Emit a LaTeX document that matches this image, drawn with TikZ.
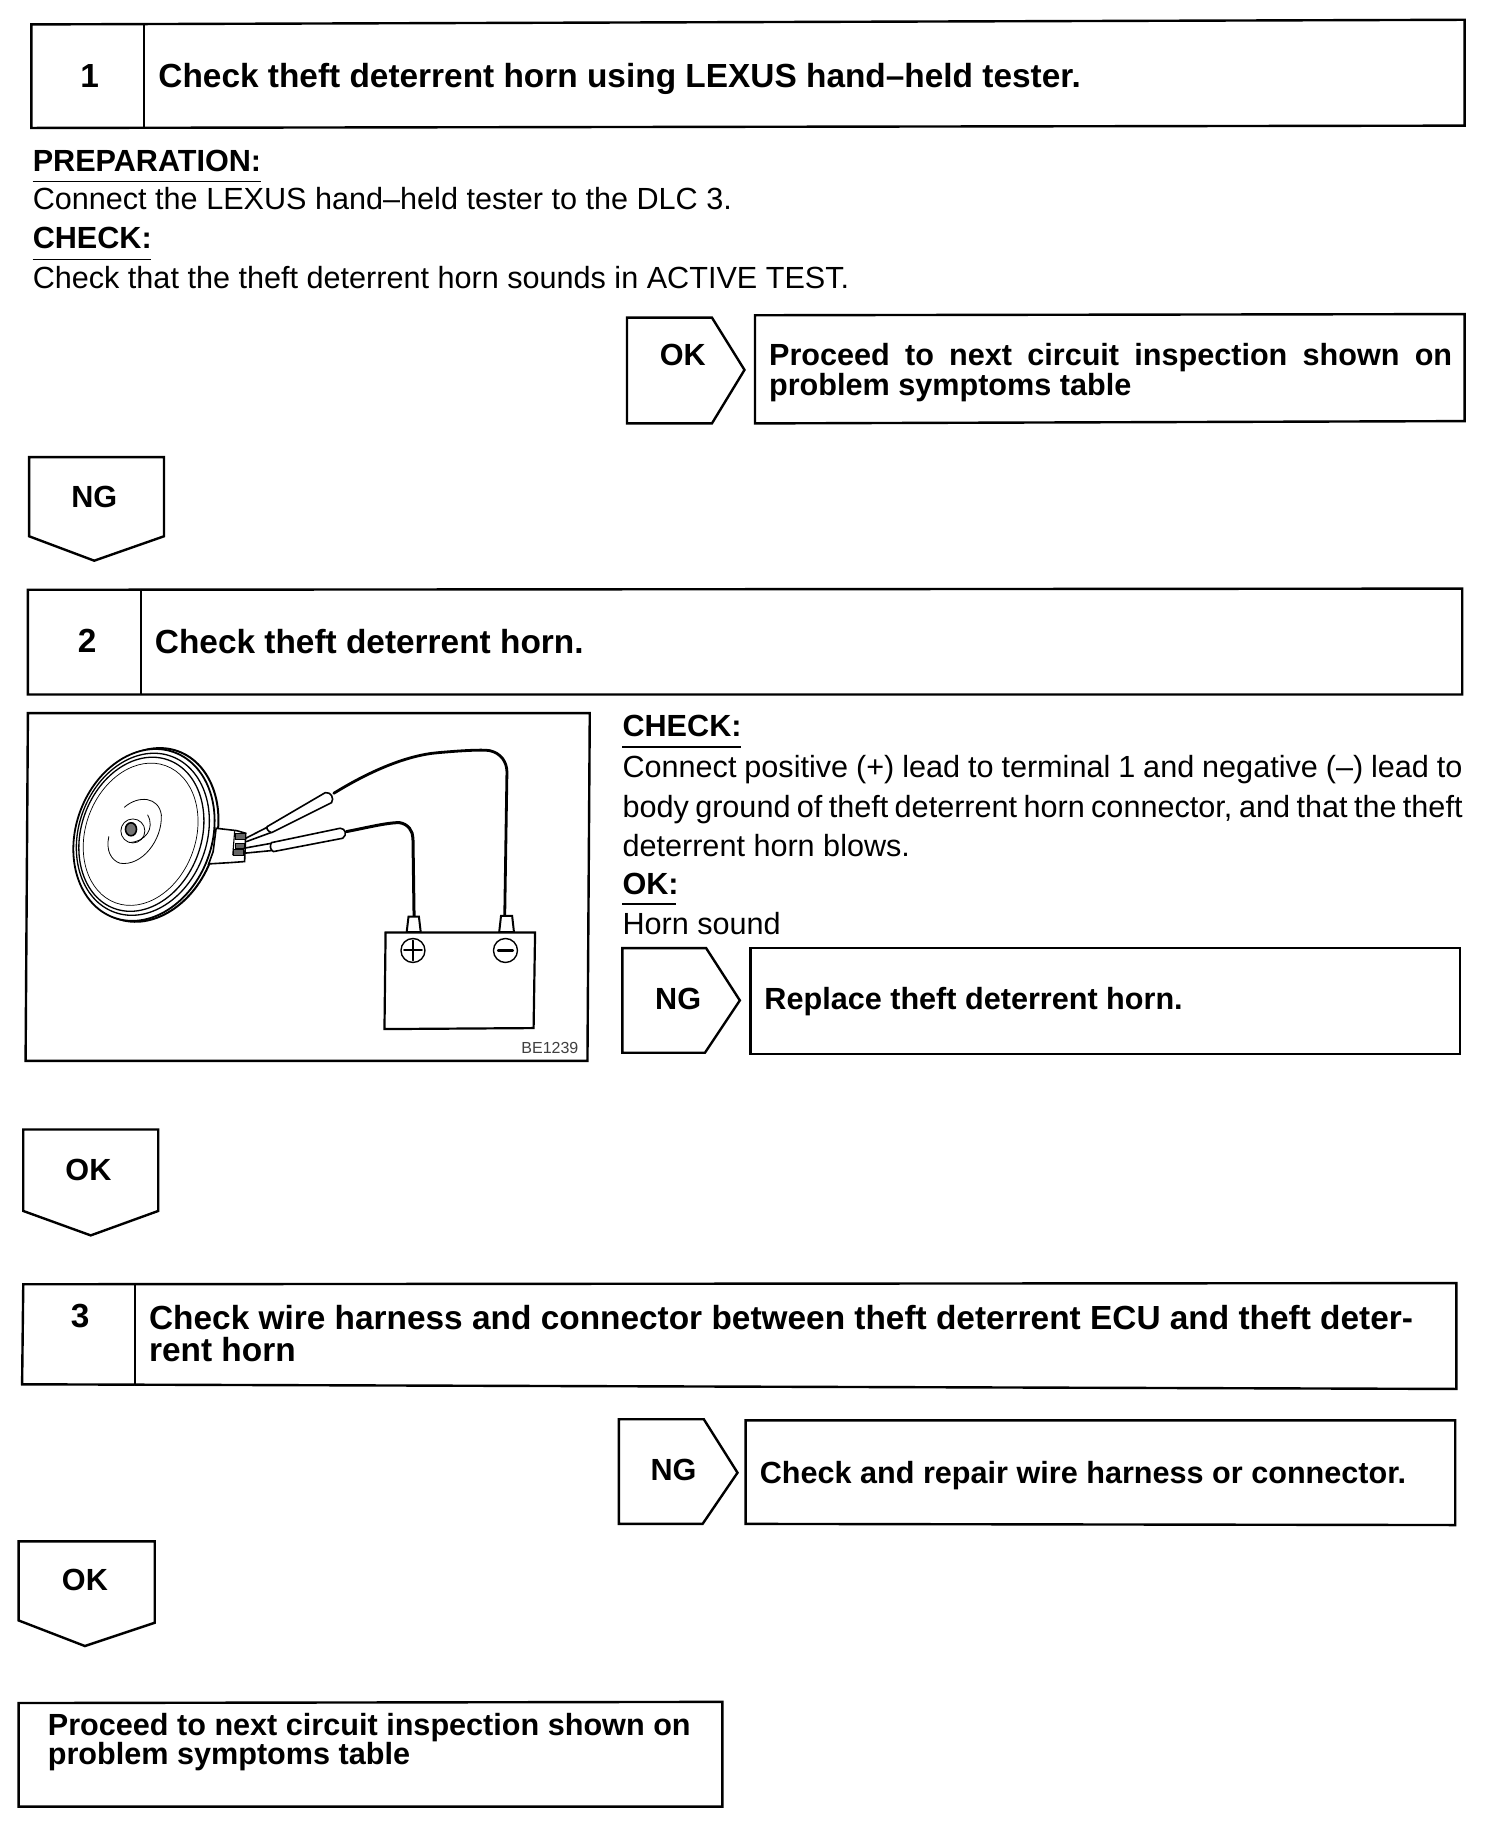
\documentclass[tikz,border=0pt]{standalone}
\usepackage{fontspec}
\setmainfont{Liberation Sans}
\newcommand{\titlefont}{\fontsize{33.4}{33.4}\selectfont\bfseries}
\newcommand{\labelfont}{\fontsize{30.6}{30.6}\selectfont\bfseries}
\newcommand{\tagfont}{\fontsize{30.6}{30.6}\selectfont\bfseries}
\newcommand{\bodyfont}{\fontsize{30.6}{30.6}\selectfont}
\tikzset{
  outline/.style={draw=black,line width=2.4pt,line join=miter,fill=white},
  rule/.style={draw=black,line width=1.4pt},
  titletext/.style={anchor=base west,inner sep=0pt,font=\titlefont},
  subtext/.style={anchor=base west,inner sep=0pt,font=\labelfont},
  plaintext/.style={anchor=base west,inner sep=0pt,font=\bodyfont},
  tagtext/.style={anchor=center,inner sep=0pt,font=\tagfont},
  hornline/.style={draw=black,line width=1.1pt,line cap=round},
  wire/.style={draw=black,line width=2pt,line cap=round,line join=round}
}
\begin{document}
\begin{tikzpicture}[x=1.1632pt,y=-1.1632pt]
\useasboundingbox (0,0) rectangle (1293,1568);
\fill[white] (0,0) rectangle (1293,1568);

% Box 1
\draw[outline] (27,21) -- (1259,17) -- (1259,108) -- (27,110) -- cycle;
\draw[outline] (124,20) -- (124,110);
\node[tagtext,font=\titlefont] (n1) at (77,65) {1};
\node[titletext] (t1) at (136,75) {Check theft deterrent horn using LEXUS hand–held tester.};
\node[subtext] (prep) at (28,147) {PREPARATION:};
\draw[rule] (28,156) -- (224,156);
\node[plaintext] (conn) at (28,180) {Connect the LEXUS hand–held tester to the DLC 3.};
\node[subtext] (chk1) at (28,214) {CHECK:};
\draw[rule] (28,223) -- (130,223);
\node[plaintext] (chkt) at (28,248) {Check that the theft deterrent horn sounds in ACTIVE TEST.};

\draw[outline] (539,273) -- (612,273) -- (640,318) -- (612,364) -- (539,364) -- cycle;
\node[tagtext] (ok1) at (587,305) {OK};
\draw[outline] (649,271) -- (1259,270) -- (1259,362) -- (649,364) -- cycle;
\node[subtext] (p1) at (661,314) {\makebox[683pt][s]{Proceed to next circuit inspection shown on}};
\node[subtext] (p2) at (661,340) {problem symptoms table};

\draw[outline] (25,393) -- (141,393) -- (141,461) -- (81,482) -- (25,461) -- cycle;
\node[tagtext] (ng1) at (81,427) {NG};

% Box 2
\draw[outline] (24,507) -- (1257,506) -- (1257,597) -- (24,597) -- cycle;
\draw[outline] (121,507) -- (121,597);
\node[tagtext,font=\titlefont] (n2) at (75,551) {2};
\node[titletext] (t2) at (133,562) {Check theft deterrent horn.};

% Figure
\draw[outline] (24,613) -- (507,613) -- (505,912) -- (22,912) -- cycle;
\begin{scope}[shift={(17.2,601.8)},x=0.370pt,y=-0.333pt]
  % horn body
  \draw[hornline,line width=2pt,fill=white] (345,405) ellipse [x radius=68pt,y radius=89pt,rotate=-20];
  \draw[hornline,line width=1.8pt,fill=white] (335,405) ellipse [x radius=68pt,y radius=88pt,rotate=-20];
  \draw[hornline,line width=1.3pt,fill=white] (332,403) ellipse [x radius=64pt,y radius=83pt,rotate=-20];
  \draw[hornline,line width=1.3pt] (328,403) ellipse [x radius=60pt,y radius=79pt,rotate=-20];
  \draw[hornline,line width=.7pt] (326,403) ellipse [x radius=55pt,y radius=73pt,rotate=-20];
  % centre spirals
  \draw[hornline,line width=.8pt] (282,322) .. controls (320,285) and (375,290) .. (382,345) .. controls (385,420) and (330,500) .. (270,490) .. controls (245,480) and (232,450) .. (240,410);
  \draw[hornline,line width=.8pt] (345,345) .. controls (365,385) and (340,425) .. (295,428);
  % bolt
  \draw[hornline,line width=.8pt] (305,393) circle [x radius=12pt,y radius=12pt];
  \draw[hornline,line width=1.6pt,fill=black!55] (300,388) circle [x radius=5.5pt,y radius=6.5pt];
  % bracket
  \draw[hornline,line width=1.6pt,fill=white] (530,385) -- (585,392) -- (610,400) -- (607,485) -- (570,488) -- (510,492) -- (522,455) -- cycle;
  \draw[hornline] (580,395) -- (575,465);
  \draw[hornline,fill=black!60] (582,400) rectangle (610,420);
  \draw[hornline,fill=black!60] (582,430) rectangle (607,445);
  \draw[hornline,fill=black!60] (578,450) rectangle (605,467);
  % probes and wires
  \draw[hornline,line width=1.6pt] (610,415) -- (668,382);
  \draw[hornline,line width=1.6pt] (612,425) -- (678,398);
  \draw[hornline,line width=1.6pt,fill=white] (668,380) -- (825,278) .. controls (840,275) and (850,295) .. (842,308) -- (680,398) .. controls (670,395) and (665,385) .. (668,380) -- cycle;
  \draw[hornline,line width=1.6pt] (605,445) -- (680,430);
  \draw[hornline,line width=1.6pt] (605,460) -- (680,452);
  \draw[hornline,line width=1.6pt,fill=white] (680,428) -- (865,385) .. controls (880,385) and (885,405) .. (872,415) -- (685,455) .. controls (675,450) and (675,435) .. (680,428) -- cycle;
  \draw[wire,line width=2.8pt] (848,280) .. controls (950,210) and (1050,165) .. (1130,158) .. controls (1190,152) and (1250,148) .. (1270,152) .. controls (1300,160) and (1315,185) .. (1316,215) -- (1310,648);
  \draw[wire,line width=3pt] (882,395) .. controls (930,385) and (990,368) .. (1025,368) .. controls (1050,372) and (1062,395) .. (1062,415) -- (1065,650);
  % battery
  \draw[hornline,line width=2pt,fill=white] (1045,697) -- (1050,650) -- (1078,650) -- (1083,697) -- cycle;
  \draw[hornline,line width=2pt,fill=white] (1295,697) -- (1300,648) -- (1330,648) -- (1335,697) -- cycle;
  \draw[hornline,line width=2.2pt,fill=white] (988,698) -- (1392,698) -- (1388,985) -- (985,988) -- cycle;
  \draw[hornline,line width=1.4pt] (1062,752) circle [radius=12pt];
  \draw[hornline,line width=2pt] (1038,752) -- (1086,752) (1062,722) -- (1062,782);
  \draw[hornline,line width=1.4pt] (1312,752) circle [radius=12pt];
  \draw[hornline,line width=2.4pt] (1292,752) -- (1332,752);
  \node[anchor=center,inner sep=0pt,font=\fontsize{16}{16}\selectfont,text=black!75] (code) at (1432,1045) {BE1239};
\end{scope}

% Right column, step 2
\node[subtext] (chk2) at (535,633) {CHECK:};
\draw[rule] (535,642) -- (637,642);
\node[plaintext] (l1) at (535,668) {\makebox[840pt][s]{Connect positive (+) lead to terminal 1 and negative (–) lead to}};
\node[plaintext] (l2) at (535,703) {\makebox[840pt][s]{body ground of theft deterrent horn connector, and that the theft}};
\node[plaintext] (l3) at (535,736) {deterrent horn blows.};
\node[subtext] (ok2h) at (535,769) {OK:};
\draw[rule] (535,777) -- (581,777);
\node[plaintext] (l4) at (535,803) {Horn sound};

\draw[outline] (535,815) -- (607,815) -- (636,860) -- (606,905) -- (535,905) -- cycle;
\node[tagtext] (ng2) at (583,859) {NG};
\draw[outline] (645,815) -- (1255,815) -- (1255,906) -- (645,906) -- cycle;
\node[subtext] (rep) at (657,868) {Replace theft deterrent horn.};

\draw[outline] (20,971) -- (136,971) -- (136,1041) -- (78,1062) -- (20,1041) -- cycle;
\node[tagtext] (ok3) at (76,1006) {OK};

% Box 3
\draw[outline] (20,1104) -- (1252,1103) -- (1252,1194) -- (19,1190) -- cycle;
\draw[outline] (116,1104) -- (116,1191);
\node[tagtext,font=\titlefont] (n3) at (69,1131) {3};
\node[titletext] (t3a) at (128,1143) {Check wire harness and connector between theft deterrent ECU and theft deter-};
\node[titletext] (t3b) at (128,1170) {rent horn};

\draw[outline] (532,1220) -- (605,1220) -- (634,1266) -- (604,1310) -- (532,1310) -- cycle;
\node[tagtext] (ng3) at (579,1264) {NG};
\draw[outline] (641,1221) -- (1251,1221) -- (1251,1311) -- (641,1310) -- cycle;
\node[subtext] (rep2) at (653,1275) {Check and repair wire harness or connector.};

\draw[outline] (16,1325) -- (133,1325) -- (133,1395) -- (73,1415) -- (16,1393) -- cycle;
\node[tagtext] (ok4) at (73,1358) {OK};

\draw[outline] (16,1464) -- (621,1463) -- (621,1553) -- (16,1553) -- cycle;
\node[subtext] (f1) at (41,1492) {Proceed to next circuit inspection shown on};
\node[subtext] (f2) at (41,1517) {problem symptoms table};
\end{tikzpicture}
\end{document}
